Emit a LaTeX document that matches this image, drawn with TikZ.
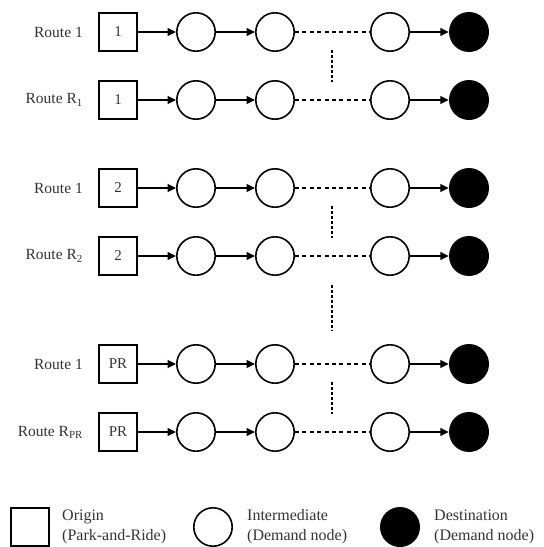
\documentclass[tikz,border=0pt]{standalone}
\usepackage{fontspec}
\setmainfont{Liberation Serif}
\usetikzlibrary{arrows.meta}
\begin{document}
\begin{tikzpicture}[x=1pt,y=-1pt,
  origbox/.style={draw,line width=1.6pt,minimum size=38.4pt,inner sep=0pt,font=\fontsize{15}{17}\selectfont,text=black!80},
  midnode/.style={draw,circle,line width=1.6pt,minimum size=38.4pt,inner sep=0pt},
  destnode/.style={fill,circle,minimum size=40pt,inner sep=0pt},
  flow/.style={line width=1.5pt,-{Triangle[length=8.5pt,width=8pt]}},
  dashlink/.style={line width=1.5pt,dash pattern=on 4pt off 3.4pt},
  dotlink/.style={line width=1.7pt,dash pattern=on 3pt off 2pt},
  routelab/.style={anchor=east,font=\fontsize{15.5}{17}\selectfont,text=black!80,inner sep=0pt},
  legtext/.style={anchor=west,align=left,font=\fontsize{16}{20}\selectfont,text=black!80,inner sep=0pt}
]
\useasboundingbox (0,0) rectangle (544,547);
\foreach \i/\y/\lab/\o in {1/32/Route 1/1, 2/100/Route R\textsubscript{1}/1, 3/188/Route 1/2, 4/256/Route R\textsubscript{2}/2, 5/364/Route 1/PR, 6/432/Route R\textsubscript{PR}/PR}{
  \node[origbox] (sq\i) at (118,\y) {\o};
  \node[routelab] (lab\i) at (83,\y) {\lab};
  \node[midnode] (a\i) at (196,\y) {};
  \node[midnode] (b\i) at (275,\y) {};
  \node[midnode] (c\i) at (390,\y) {};
  \node[destnode] (d\i) at (469,\y) {};
  \draw[flow] (sq\i) -- (a\i);
  \draw[flow] (a\i) -- (b\i);
  \draw[dashlink] (b\i) -- (c\i);
  \draw[flow] (c\i) -- (d\i);
}
\coordinate (v1a) at (332,50);  \coordinate (v1b) at (332,82);
\coordinate (v2a) at (332,206); \coordinate (v2b) at (332,238);
\coordinate (v3a) at (332,285); \coordinate (v3b) at (332,331);
\coordinate (v4a) at (332,382); \coordinate (v4b) at (332,414);
\draw[dotlink] (v1a) -- (v1b);
\draw[dotlink] (v2a) -- (v2b);
\draw[dotlink] (v3a) -- (v3b);
\draw[dotlink] (v4a) -- (v4b);
% legend
\node[origbox] (lsq) at (30,527) {};
\node[legtext] (lsqt) at (62,527) {Origin\\(Park-and-Ride)};
\node[midnode] (lci) at (213,527) {};
\node[legtext] (lcit) at (247,527) {Intermediate\\(Demand node)};
\node[destnode] (lde) at (400,527) {};
\node[legtext] (ldet) at (434,527) {Destination\\(Demand node)};
\end{tikzpicture}
\end{document}
